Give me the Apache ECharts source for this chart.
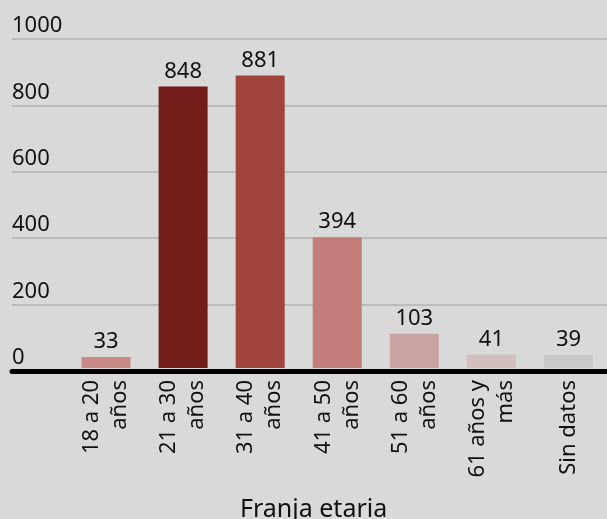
<!DOCTYPE html>
<html>
<head>
<meta charset="utf-8">
<script src="https://cdn.jsdelivr.net/npm/echarts@6/dist/echarts.min.js"></script>
<style>
  html, body { margin: 0; padding: 0; background: #d9d9d9; }
  #chart { width: 607px; height: 519px; }
</style>
</head>
<body>
<div id="chart"></div>
<script>
// datos
const categorias = ['18 a 20\naños', '21 a 30\naños', '31 a 40\naños', '41 a 50\naños', '51 a 60\naños', '61 años y\nmás', 'Sin datos']
const valores = [33, 848, 881, 394, 103, 41, 39]
const colores = ['#c98a85', '#721d19', '#9f443c', '#c37d79', '#c9a4a2', '#d3bfbf', '#c9c9c9']
const ticksY = [0, 200, 400, 600, 800, 1000]

const fuente = 'Noto Sans'
const chart = echarts.init(document.getElementById('chart'))

const option = {
  backgroundColor: '#d9d9d9',
  animation: false,
  textStyle: { fontFamily: fuente },
  title: {
    text: 'Franja etaria',
    left: 240,
    top: 497,
    padding: 0,
    textStyle: { fontFamily: fuente, fontSize: 25, fontWeight: 'normal', color: '#111' }
  },
  grid: [
    // grilla de fondo (lineas + etiquetas del eje y)
    { left: 12, right: 0, top: 39, bottom: 148 },
    // barras
    { left: 67.5, width: 546, top: 36, bottom: 151 }
  ],
  xAxis: [
    {
      type: 'category',
      gridIndex: 0,
      data: [''],
      z: 5,
      axisLine: { show: true, lineStyle: { color: '#000', width: 5 } },
      axisTick: { show: false },
      axisLabel: { show: false }
    },
    {
      type: 'category',
      gridIndex: 1,
      data: categorias,
      axisLine: { show: false },
      axisTick: { show: false },
      axisLabel: {
        rotate: 90,
        margin: 12,
        interval: 0,
        fontFamily: fuente,
        fontSize: 22,
        lineHeight: 28,
        color: '#111'
      }
    }
  ],
  yAxis: [
    {
      type: 'value',
      gridIndex: 0,
      min: 0,
      max: 1000,
      interval: 200,
      axisLine: { show: false },
      axisTick: { show: false },
      splitLine: { show: true, lineStyle: { color: '#bbbbbb', width: 2 } },
      axisLabel: {
        inside: true,
        margin: 0,
        verticalAlign: 'bottom',
        padding: [0, 0, 2, 0],
        fontFamily: fuente,
        fontSize: 22,
        color: '#111',
        formatter: v => ticksY.includes(v) ? String(v) : ''
      }
    },
    {
      type: 'value',
      gridIndex: 1,
      min: 0,
      max: 1000,
      show: false,
      splitLine: { show: false }
    }
  ],
  series: [
    {
      type: 'bar',
      xAxisIndex: 1,
      yAxisIndex: 1,
      barWidth: 49,
      data: valores.map((v, i) => ({ value: v, itemStyle: { color: colores[i] } })),
      label: {
        show: true,
        position: 'top',
        distance: 4,
        fontFamily: fuente,
        fontSize: 22,
        color: '#111'
      }
    }
  ]
}

chart.setOption(option)
</script>
</body>
</html>
